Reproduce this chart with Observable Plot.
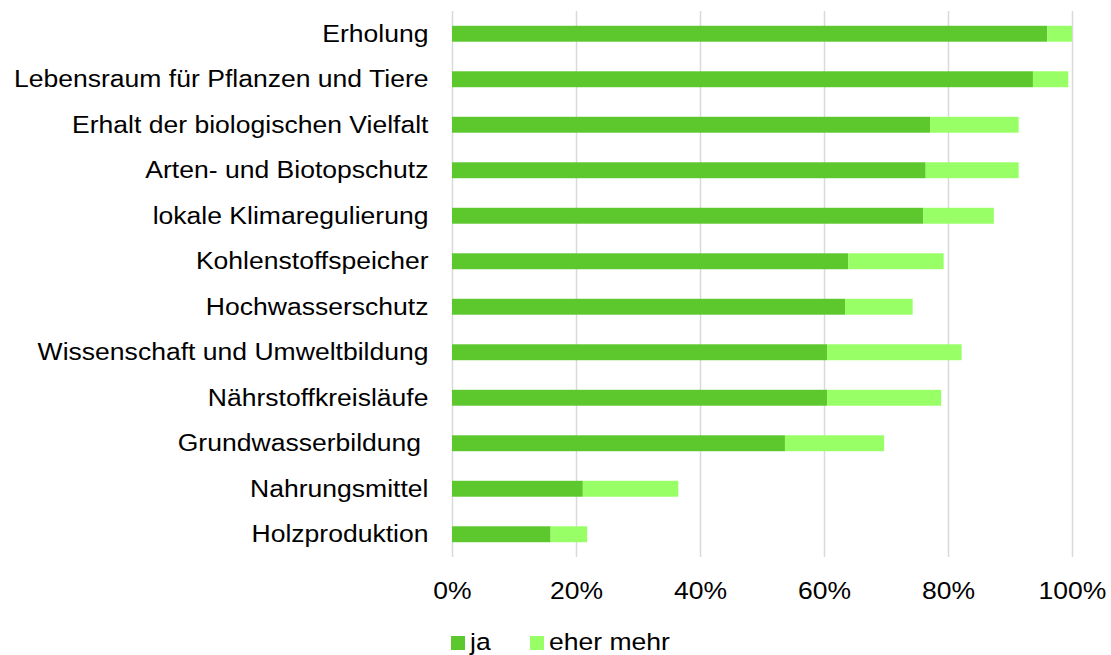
<!DOCTYPE html>
<html>
<head>
<meta charset="utf-8">
<script src="https://cdn.jsdelivr.net/npm/d3@7"></script>
<script src="https://cdn.jsdelivr.net/npm/@observablehq/plot@0.6"></script>
<style>
  html, body { margin: 0; padding: 0; background: #fff; }
  body { width: 1111px; height: 655px; position: relative; overflow: hidden; font-family: "Liberation Sans", Arial, sans-serif; }
  #legend { position: absolute; left: 451px; top: 629px; height: 26px; font-size: 23.7px; color: #000; white-space: nowrap; }
  #legend .item { position: absolute; top: 0; }
  #legend .sw { position: absolute; top: 7px; width: 14px; height: 14px; }
  #legend .lbl { position: absolute; top: 0; line-height: 26px; transform-origin: 0 0; transform: scaleX(1.12); }
</style>
</head>
<body>
<div id="chart"></div>
<div id="legend"></div>
<script>
const categories = [
  "Erholung",
  "Lebensraum für Pflanzen und Tiere",
  "Erhalt der biologischen Vielfalt",
  "Arten- und Biotopschutz",
  "lokale Klimaregulierung",
  "Kohlenstoffspeicher",
  "Hochwasserschutz",
  "Wissenschaft und Umweltbildung",
  "Nährstoffkreisläufe",
  "Grundwasserbildung ",
  "Nahrungsmittel",
  "Holzproduktion"
];
const seriesNames = ["ja", "eher mehr"];
const ja =       [96.0, 93.7, 77.1, 76.4, 76.0, 63.9, 63.4, 60.5, 60.5, 53.7, 21.1, 15.9];
const eherMehr = [ 4.0,  5.7, 14.3, 15.0, 11.4, 15.4, 10.9, 21.7, 18.4, 16.0, 15.4,  5.9];
const xTicks = [0, 20, 40, 60, 80, 100];
const colors = ["#5dc72e", "#99ff66"];

const rows = [];
categories.forEach((c, i) => {
  rows.push({category: c, series: seriesNames[0], value: ja[i]});
  rows.push({category: c, series: seriesNames[1], value: eherMehr[i]});
});

const plot = Plot.plot({
  width: 1111,
  height: 615,
  marginLeft: 452,
  marginRight: 39,
  marginTop: 11,
  marginBottom: 58,
  style: {fontFamily: "'Liberation Sans', Arial, sans-serif", fontSize: "23.7px", color: "#000", background: "#fff"},
  x: {domain: [0, 100], ticks: xTicks},
  y: {domain: categories, paddingInner: 0.65, paddingOuter: 0.325, round: false},
  color: {domain: seriesNames, range: colors},
  marks: [
    Plot.gridX(xTicks, {stroke: "#d9d9d9", strokeOpacity: 1, strokeWidth: 1.5}),
    Plot.barX(rows, {x: "value", y: "category", fill: "series"}),
    Plot.axisX(xTicks, {tickSize: 0, tickPadding: 25, tickFormat: d => d + "%", label: null, fontSize: 23.7}),
    Plot.axisY({tickSize: 0, tickPadding: 24, label: null, fontSize: 23.7})
  ]
});
document.getElementById("chart").appendChild(plot);

// horizontal stretch of label text, as in the reference
d3.select(plot).selectAll("g[aria-label='x-axis tick label'] text, g[aria-label='y-axis tick label'] text")
  .each(function() {
    const t = this.getAttribute("transform") || "";
    this.setAttribute("transform", t + " scale(1.12,1)");
    this.style.whiteSpace = "pre";
  });

// legend
const legend = d3.select("#legend");
const offsets = [0, 79];
seriesNames.forEach((s, i) => {
  const item = legend.append("div").attr("class", "item").style("left", offsets[i] + "px");
  item.append("div").attr("class", "sw").style("left", "0px").style("background", colors[i]);
  item.append("div").attr("class", "lbl").style("left", "19px").text(s);
});
</script>
</body>
</html>
